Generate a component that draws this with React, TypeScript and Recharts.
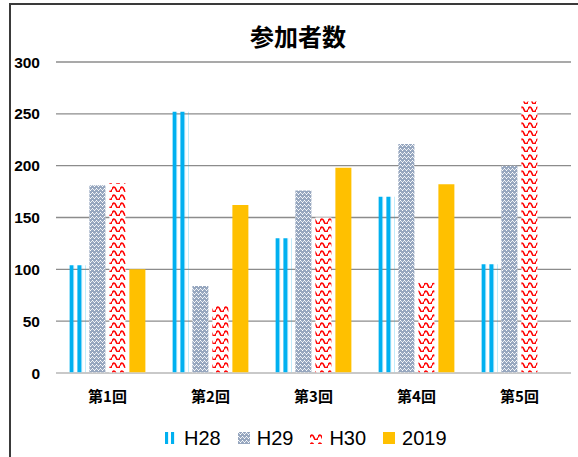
import React from 'react';
import { BarChart, Bar, XAxis, YAxis, CartesianGrid, Legend } from 'recharts';

const categories = ['第1回', '第2回', '第3回', '第4回', '第5回'];
const h28 = [104, 252, 130, 170, 105];
const h29 = [181, 84, 176, 221, 200];
const h30 = [183, 66, 150, 87, 262];
const y2019 = [100, 162, 198, 182, null];
const yTicks = [0, 50, 100, 150, 200, 250, 300];

const SERIES = [
  { key: 'H28', fill: 'url(#pat-h28)' },
  { key: 'H29', fill: 'url(#pat-h29)' },
  { key: 'H30', fill: 'url(#pat-h30)' },
  { key: '2019', fill: '#FFC000' },
];

const data = categories.map((name, i) => ({
  name,
  H28: h28[i],
  H29: h29[i],
  H30: h30[i],
  '2019': y2019[i],
}));

const LATIN = '"Liberation Sans", Arial, sans-serif';
const CJK = '"Noto Sans CJK JP", "Noto Sans", sans-serif';

// keep series order (recharts sorts legend items by name otherwise)
function LegendContent({ payload }: any) {
  const items = SERIES.map((s) => ({ s, p: (payload || []).find((x: any) => x.dataKey === s.key) })).filter((x) => x.p);
  return (
    <div style={{ display: 'flex', alignItems: 'center', height: 36, fontFamily: LATIN, fontSize: 20, color: '#000' }}>
      {items.map(({ s, p }) => (
        <div key={s.key} style={{ display: 'flex', alignItems: 'center', marginRight: 17 }}>
          <svg width={12} height={12} style={{ marginRight: 7 }}>
            <rect x={0} y={0} width={12} height={12} fill={s.fill} />
          </svg>
          <span>{p.value}</span>
        </div>
      ))}
    </div>
  );
}

export default function App() {
  return (
    <div style={{ position: 'fixed', left: 0, top: 0, width: 578, height: 457, overflow: 'hidden', background: '#fff' }}>
      <div
        style={{
          position: 'absolute',
          left: 9,
          top: 3,
          width: 700,
          height: 700,
          border: '2px solid #3a3a3a',
        }}
      />
      <div
        style={{
          position: 'absolute',
          left: 198,
          width: 200,
          top: 18,
          textAlign: 'center',
          fontFamily: CJK,
          fontWeight: 700,
          fontSize: 24,
          lineHeight: '36px',
          color: '#000',
        }}
      >
        参加者数
      </div>
      <div style={{ position: 'absolute', left: 0, top: 0 }}>
        <BarChart
          width={578}
          height={457}
          data={data}
          margin={{ top: 62, right: 7, bottom: 1, left: 11 }}
          barCategoryGap="13%"
          barGap={4}
        >
          <defs>
            <pattern id="pat-h28" patternUnits="objectBoundingBox" width="0.5" height="1" patternContentUnits="objectBoundingBox">
              <rect x="0" y="0" width="0.26" height="1" fill="#00B0F0" />
            </pattern>
            <pattern id="pat-h29" patternUnits="userSpaceOnUse" width="4" height="4">
              <rect x="0" y="0" width="4" height="4" fill="#97A7BF" />
              <rect x="0" y="0" width="1" height="1" fill="#ffffff" />
              <rect x="1" y="1" width="1" height="1" fill="#e8ecf2" />
              <rect x="2" y="2" width="1" height="1" fill="#ffffff" />
              <rect x="3" y="1" width="1" height="1" fill="#e8ecf2" />
            </pattern>
            <pattern id="pat-h30" patternUnits="userSpaceOnUse" width="8" height="8">
              <rect x="0" y="0" width="8" height="8" fill="#ffffff" />
              <path d="M0 5.5 Q2 0.5 4 5.5 T8 5.5" fill="none" stroke="#FF0000" strokeWidth="1.7" />
            </pattern>
          </defs>
          <CartesianGrid vertical={false} stroke="#8c8c8c" strokeWidth={1.3} />
          <XAxis
            dataKey="name"
            interval={0}
            tickLine={false}
            tickSize={0}
            tickMargin={18}
            height={47}
            axisLine={{ stroke: '#d4d4d4', strokeWidth: 1.3 }}
            tick={{ fontSize: 15, fontWeight: 700, fill: '#000', fontFamily: CJK }}
          />
          <YAxis
            width={45}
            domain={[0, 300]}
            ticks={yTicks}
            tickLine={false}
            tickSize={0}
            tickMargin={16}
            axisLine={false}
            tick={{ fontSize: 15.5, fontWeight: 700, fill: '#000', fontFamily: LATIN }}
          />
          <Legend
            verticalAlign="bottom"
            height={36}
            wrapperStyle={{ left: 165, width: 320 }}
            content={<LegendContent />}
          />
          {SERIES.map((s) => (
            <Bar key={s.key} dataKey={s.key} name={s.key} fill={s.fill} isAnimationActive={false} />
          ))}
        </BarChart>
      </div>
    </div>
  );
}
